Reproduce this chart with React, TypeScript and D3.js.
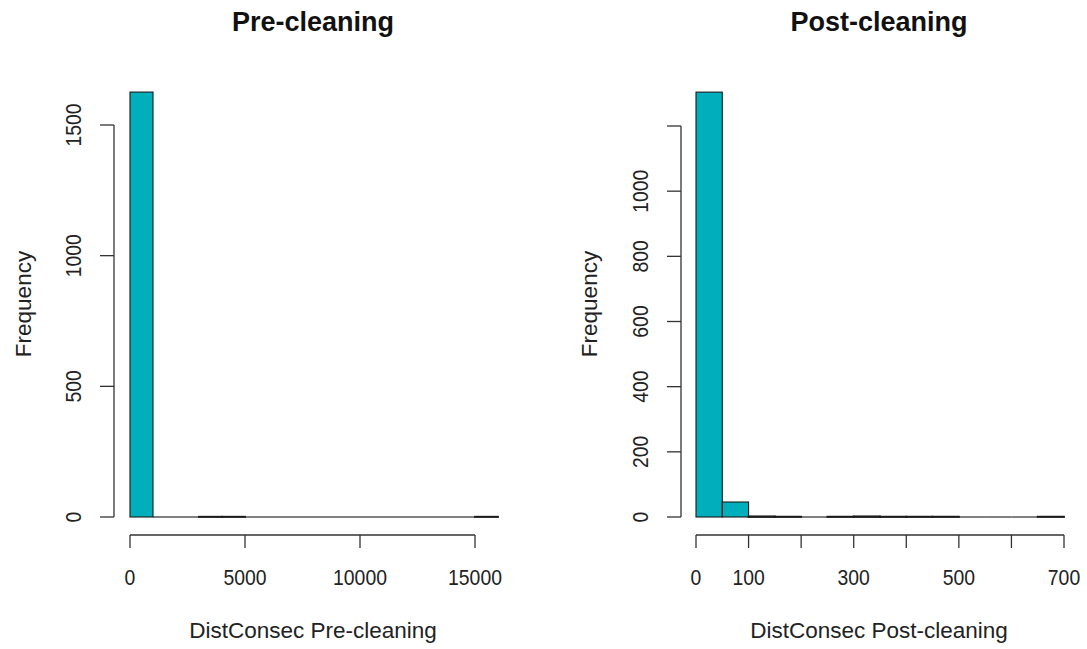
import { useRef, useEffect } from 'react';
import * as d3 from 'd3';

// Pre-cleaning histogram (bin width 1000)
const preBreaks = [0, 1000, 2000, 3000, 4000, 5000, 6000, 7000, 8000, 9000, 10000, 11000, 12000, 13000, 14000, 15000, 16000];
const preCounts = [1626, 0, 0, 1, 1, 0, 0, 0, 0, 0, 0, 0, 0, 0, 0, 1];
const preXTicks = [0, 5000, 10000, 15000];
const preXLabels = ['0', '5000', '10000', '15000'];
const preYTicks = [0, 500, 1000, 1500];
const preYLabels = ['0', '500', '1000', '1500'];

// Post-cleaning histogram (bin width 50)
const postBreaks = [0, 50, 100, 150, 200, 250, 300, 350, 400, 450, 500, 550, 600, 650, 700];
const postCounts = [1304, 46, 2, 1, 0, 1, 2, 1, 1, 1, 0, 0, 0, 1];
const postXTicks = [0, 100, 200, 300, 400, 500, 600, 700];
const postXLabels = ['0', '100', '', '300', '', '500', '', '700'];
const postYTicks = [0, 200, 400, 600, 800, 1000, 1200];
const postYLabels = ['0', '200', '400', '600', '800', '1000', ''];

const W = 1087;
const H = 649;
const FONT = '"Liberation Sans", Arial, sans-serif';
const FILL = '#00AFBB';

type PanelSpec = {
  title: string;
  xTitle: string;
  breaks: number[];
  counts: number[];
  xTicks: number[];
  xLabels: string[];
  yTicks: number[];
  yLabels: string[];
  x0: number; // pixel of first x tick
  x1: number; // pixel of last x tick
  yAxisX: number;
  yTop: number; // pixel of last y tick
  cx: number; // title centre
  yLabX: number;
  freqX: number;
};

const panels: PanelSpec[] = [
  {
    title: 'Pre-cleaning',
    xTitle: 'DistConsec Pre-cleaning',
    breaks: preBreaks,
    counts: preCounts,
    xTicks: preXTicks,
    xLabels: preXLabels,
    yTicks: preYTicks,
    yLabels: preYLabels,
    x0: 130,
    x1: 475,
    yAxisX: 114,
    yTop: 125,
    cx: 313,
    yLabX: 81,
    freqX: 31,
  },
  {
    title: 'Post-cleaning',
    xTitle: 'DistConsec Post-cleaning',
    breaks: postBreaks,
    counts: postCounts,
    xTicks: postXTicks,
    xLabels: postXLabels,
    yTicks: postYTicks,
    yLabels: postYLabels,
    x0: 696,
    x1: 1064,
    yAxisX: 681,
    yTop: 126,
    cx: 879,
    yLabX: 648,
    freqX: 597,
  },
];

const BASE_Y = 517;
const X_AXIS_Y = 535;
const TICK_FS = 22;
const TICK_SX = 0.88;

export default function App() {
  const svgRef = useRef<SVGSVGElement>(null);

  useEffect(() => {
    const svg = d3.select(svgRef.current);
    svg.selectAll('*').remove();

    svg.append('rect').attr('width', W).attr('height', H).attr('fill', '#fff');

    panels.forEach((p) => {
      const g = svg.append('g');
      const x = d3
        .scaleLinear()
        .domain([p.xTicks[0], p.xTicks[p.xTicks.length - 1]])
        .range([p.x0, p.x1]);
      const y = d3
        .scaleLinear()
        .domain([0, p.yTicks[p.yTicks.length - 1]])
        .range([BASE_Y, p.yTop]);

      // bars (empty bins drawn as a flat line, like R)
      p.counts.forEach((c, i) => {
        const xa = x(p.breaks[i]);
        const xb = x(p.breaks[i + 1]);
        if (c === 0) {
          g.append('line')
            .attr('x1', xa)
            .attr('x2', xb)
            .attr('y1', BASE_Y)
            .attr('y2', BASE_Y)
            .attr('stroke', '#1a1a1a')
            .attr('stroke-width', 1.1);
          return;
        }
        g.append('rect')
          .attr('x', xa)
          .attr('y', y(c))
          .attr('width', xb - xa)
          .attr('height', BASE_Y - y(c))
          .attr('fill', FILL)
          .attr('stroke', '#1a1a1a')
          .attr('stroke-width', c < 5 ? 1.8 : 1.1);
      });

      // y axis
      g.append('line')
        .attr('x1', p.yAxisX)
        .attr('x2', p.yAxisX)
        .attr('y1', y(p.yTicks[0]))
        .attr('y2', y(p.yTicks[p.yTicks.length - 1]))
        .attr('stroke', '#333')
        .attr('stroke-width', 1.3);
      p.yTicks.forEach((t, i) => {
        g.append('line')
          .attr('x1', p.yAxisX - 14)
          .attr('x2', p.yAxisX)
          .attr('y1', y(t))
          .attr('y2', y(t))
          .attr('stroke', '#333')
          .attr('stroke-width', 1.3);
        if (p.yLabels[i]) {
          g.append('text')
            .attr('transform', `translate(${p.yLabX},${y(t)}) rotate(-90) scale(${TICK_SX},1)`)
            .attr('text-anchor', 'middle')
            .attr('font-family', FONT)
            .attr('font-size', TICK_FS)
            .attr('fill', '#222')
            .text(p.yLabels[i]);
        }
      });

      // x axis
      g.append('line')
        .attr('x1', x(p.xTicks[0]))
        .attr('x2', x(p.xTicks[p.xTicks.length - 1]))
        .attr('y1', X_AXIS_Y)
        .attr('y2', X_AXIS_Y)
        .attr('stroke', '#333')
        .attr('stroke-width', 1.3);
      p.xTicks.forEach((t, i) => {
        g.append('line')
          .attr('x1', x(t))
          .attr('x2', x(t))
          .attr('y1', X_AXIS_Y)
          .attr('y2', X_AXIS_Y + 13)
          .attr('stroke', '#333')
          .attr('stroke-width', 1.3);
        if (p.xLabels[i]) {
          g.append('text')
            .attr('transform', `translate(${x(t)},585) scale(${TICK_SX},1)`)
            .attr('text-anchor', 'middle')
            .attr('font-family', FONT)
            .attr('font-size', TICK_FS)
            .attr('fill', '#222')
            .text(p.xLabels[i]);
        }
      });

      // titles
      g.append('text')
        .attr('x', p.cx)
        .attr('y', 31)
        .attr('text-anchor', 'middle')
        .attr('font-family', FONT)
        .attr('font-size', 27)
        .attr('font-weight', 'bold')
        .attr('fill', '#111')
        .text(p.title);
      g.append('text')
        .attr('x', p.cx)
        .attr('y', 638)
        .attr('text-anchor', 'middle')
        .attr('font-family', FONT)
        .attr('font-size', 22.5)
        .attr('fill', '#222')
        .text(p.xTitle);
      g.append('text')
        .attr('transform', `translate(${p.freqX},${304}) rotate(-90)`)
        .attr('text-anchor', 'middle')
        .attr('font-family', FONT)
        .attr('font-size', 22.5)
        .attr('fill', '#222')
        .text('Frequency');
    });
  }, []);

  return (
    <svg
      ref={svgRef}
      width={W}
      height={H}
      style={{ position: 'absolute', left: 0, top: 0 }}
    />
  );
}
